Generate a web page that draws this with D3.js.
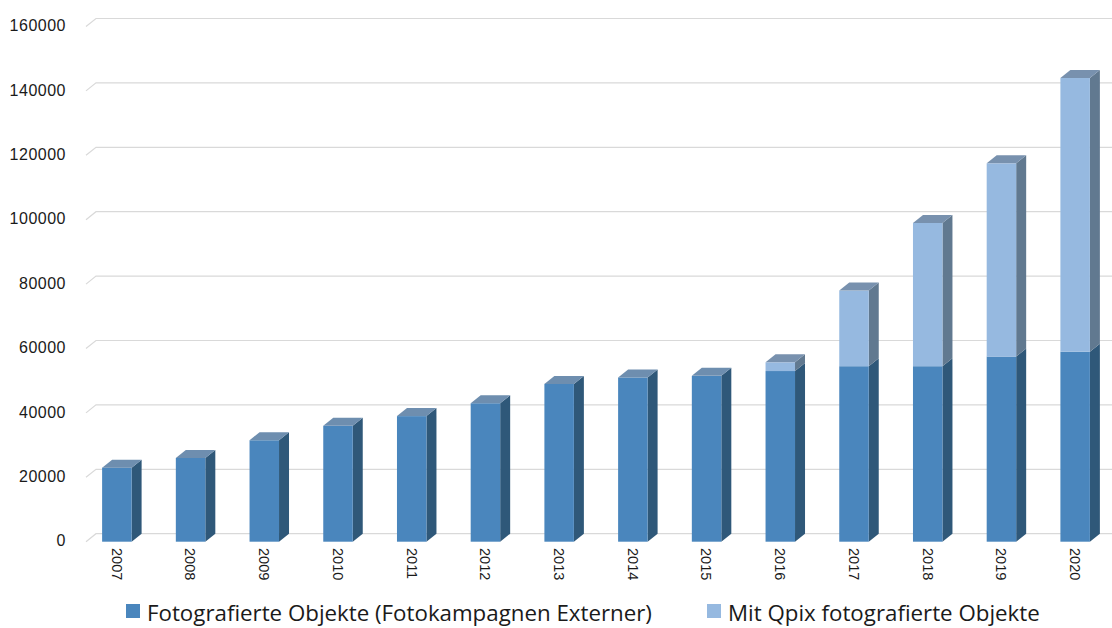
<!DOCTYPE html>
<html>
<head>
<meta charset="utf-8">
<script src="https://cdn.jsdelivr.net/npm/d3@7"></script>
<style>
  html, body { margin: 0; padding: 0; background: #ffffff; }
  svg { display: block; }
</style>
</head>
<body>
<svg id="chart" width="1112" height="628"></svg>
<script>
const years = ["2007","2008","2009","2010","2011","2012","2013","2014","2015","2016","2017","2018","2019","2020"];
const extern = [23000, 26000, 31500, 36000, 39000, 43000, 49000, 51000, 51500, 53000, 54500, 54500, 57500, 59000];
const qpix   = [0, 0, 0, 0, 0, 0, 0, 0, 0, 2700, 23500, 44500, 60000, 85000];
const yTicks = [0, 20000, 40000, 60000, 80000, 100000, 120000, 140000, 160000];
const seriesNames = ["Fotografierte Objekte (Fotokampagnen Externer)", "Mit Qpix fotografierte Objekte"];

const colors = [
  { front: "#4a86bd", side: "#2f5879", top: "#6e8eaf" },
  { front: "#96b9e0", side: "#617990", top: "#7891ae" }
];

const svg = d3.select("#chart");
const DX = 10, DY = 8;
const floorLeft = 86, right = 1112;

const x = d3.scaleBand().domain(years).range([80, 1112]).paddingInner(0.6).paddingOuter(0.3);
const y = d3.scaleLinear().domain([0, 160000]).range([541.7, 26.5]);

// gridlines (3D back wall + floor edge)
const grid = svg.append("g");
yTicks.forEach(v => {
  const yy = y(v);
  grid.append("path")
    .attr("d", `M${floorLeft},${yy}L${floorLeft + DX},${yy - DY}L${right},${yy - DY}`)
    .attr("fill", "none")
    .attr("stroke", "#d9d9d9")
    .attr("stroke-width", 1.2);
});

// y axis labels
const yAxis = d3.axisLeft(y).tickValues(yTicks).tickSize(0).tickPadding(0).tickFormat(d3.format("d"));
const gy = svg.append("g").attr("transform", "translate(66,-1)").call(yAxis);
gy.select(".domain").remove();
gy.selectAll("text")
  .attr("font-family", "Liberation Sans, Arial, sans-serif")
  .attr("font-size", "16px")
  .attr("letter-spacing", "0.5px")
  .attr("fill", "#1a1a1a");

// stacked data
const data = years.map((yr, i) => ({ year: yr, extern: extern[i], qpix: qpix[i] }));
const stack = d3.stack().keys(["extern", "qpix"]);
const layers = stack(data);

const bw = x.bandwidth();
const bars = svg.append("g");
years.forEach((yr, i) => {
  const x0 = x(yr);
  const segs = layers.map((L, k) => ({ k, y0: L[i][0], y1: L[i][1] })).filter(s => s.y1 > s.y0);
  segs.forEach((s, idx) => {
    const c = colors[s.k];
    const yt = y(s.y1), yb = y(s.y0);
    bars.append("path")
      .attr("d", `M${x0 + bw},${yt}L${x0 + bw + DX},${yt - DY}L${x0 + bw + DX},${yb - DY}L${x0 + bw},${yb}Z`)
      .attr("fill", c.side);
    bars.append("rect")
      .attr("x", x0).attr("y", yt)
      .attr("width", bw).attr("height", yb - yt)
      .attr("fill", c.front);
    if (idx === segs.length - 1) {
      bars.append("path")
        .attr("d", `M${x0},${yt}L${x0 + DX},${yt - DY}L${x0 + bw + DX},${yt - DY}L${x0 + bw},${yt}Z`)
        .attr("fill", c.top);
    }
  });
});

// x axis labels (rotated)
const xl = svg.append("g");
years.forEach(yr => {
  const cx = x(yr) + bw / 2;
  xl.append("text")
    .attr("transform", `translate(${cx},548) rotate(90)`)
    .attr("dy", "0.35em")
    .attr("text-anchor", "start")
    .attr("font-family", "Liberation Sans, Arial, sans-serif")
    .attr("font-size", "14.5px")
    .attr("fill", "#1a1a1a")
    .text(yr);
});

// legend
const legend = svg.append("g");
const legendItems = [
  { name: seriesNames[0], color: colors[0].front, sx: 126 },
  { name: seriesNames[1], color: colors[1].front, sx: 707 }
];
legendItems.forEach(it => {
  legend.append("rect").attr("x", it.sx).attr("y", 604).attr("width", 14).attr("height", 14).attr("fill", it.color);
  legend.append("text")
    .attr("x", it.sx + 21).attr("y", 621)
    .attr("font-family", "Open Sans, sans-serif")
    .attr("font-size", "22.3px")
    .attr("fill", "#1a1a1a")
    .text(it.name);
});
</script>
</body>
</html>
